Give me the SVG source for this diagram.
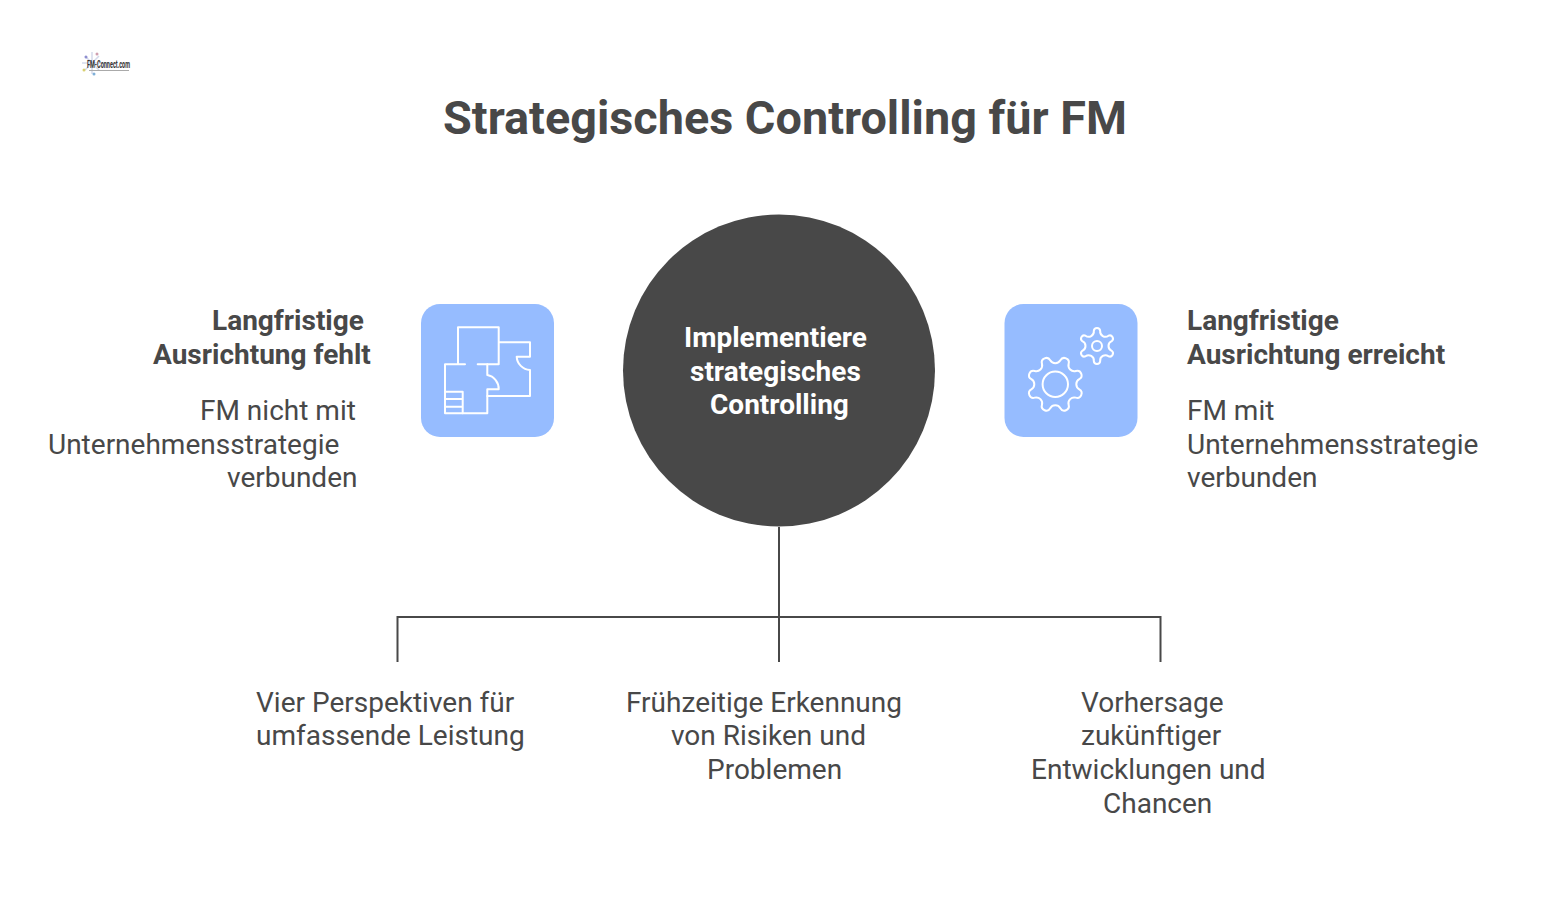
<svg xmlns="http://www.w3.org/2000/svg" width="1558" height="909" viewBox="0 0 1558 909">
<style>
text{font-family:Roboto,"Liberation Sans",sans-serif;fill:#484848}
.t{font-size:46.800px;font-weight:700}
.h{font-size:28px;font-weight:700}
.b{font-size:28px;font-weight:400}
.w{fill:#fff}
.box{fill:#96bcff}
.ic{fill:none;stroke:#fff;stroke-width:2;stroke-linecap:round;stroke-linejoin:round}
.con{fill:none;stroke:#484848;stroke-width:2}
</style>
<rect width="1558" height="909" fill="#fff"/>
<g id="logo">
<path d="M92 52L92 74M82 63L102 63M85 56L99 70M99 56L85 70" stroke="#c9cfe6" stroke-width="1.500" fill="none" opacity=".8"/>
<circle cx="86" cy="57" r="1.500" fill="#8f8fd0"/><circle cx="97" cy="54" r="1.500" fill="#d0a0b0"/><circle cx="84" cy="70" r="1.500" fill="#d8d070"/><circle cx="94" cy="74" r="1.500" fill="#80b0d8"/>
<path d="M89 70.500H129" stroke="#aaa" stroke-width="1" fill="none"/>
<text x="87" y="68" font-size="11" font-weight="700" textLength="43" lengthAdjust="spacingAndGlyphs" style="fill:#333">FM-Connect.com</text>
</g>
<text id="title" class="t" x="443" y="134">Strategisches Controlling für FM</text>
<g id="connectors" class="con">
<path d="M779 527V662"/>
<path d="M397.500 662V617H1160.500V662"/>
</g>
<g id="center">
<circle cx="779" cy="370.500" r="156" fill="#484848"/>
<text class="h w" x="684" y="347">Implementiere</text>
<text class="h w" x="690" y="380.500">strategisches</text>
<text class="h w" x="710" y="414">Controlling</text>
</g>
<g id="left-icon">
<rect class="box" x="421" y="304" width="133" height="133" rx="19"/>
<g class="ic">
<path d="M458 364.300V327.300H498.700V364.300H477.700M465 364.300H445V413.300H487.300V396H530V370A14 14 0 0 1 516.700 356.700H530V342.300H498.700"/>
<path d="M487.300 364.300V375A14 14 0 0 1 498.700 389.300H487.300V396"/>
<path d="M445 391.700H462.700V413.300M445 399H462.700M445 406.700H462.700"/>
</g>
</g>
<g id="left-text">
<text class="h" x="212" y="330">Langfristige</text>
<text class="h" x="153" y="364">Ausrichtung fehlt</text>
<text class="b" x="200" y="420">FM nicht mit</text>
<text class="b" x="48" y="454">Unternehmensstrategie</text>
<text class="b" x="227" y="487">verbunden</text>
</g>
<g id="right-icon">
<rect class="box" x="1004.500" y="304" width="133" height="133" rx="19"/>
<g class="ic">
<circle cx="1055.300" cy="384.300" r="12.700"/>
<path transform="translate(1055.300 384.300)" d="M23.950 5.080A4.500 4.500 0 0 1 20.520 13.340A5.860 5.860 0 0 0 13.340 20.520A4.500 4.500 0 0 1 5.080 23.950A5.860 5.860 0 0 0 -5.080 23.950A4.500 4.500 0 0 1 -13.340 20.520A5.860 5.860 0 0 0 -20.520 13.340A4.500 4.500 0 0 1 -23.950 5.080A5.860 5.860 0 0 0 -23.950 -5.080A4.500 4.500 0 0 1 -20.520 -13.340A5.860 5.860 0 0 0 -13.340 -20.520A4.500 4.500 0 0 1 -5.080 -23.950A5.860 5.860 0 0 0 5.080 -23.950A4.500 4.500 0 0 1 13.340 -20.520A5.860 5.860 0 0 0 20.520 -13.340A4.500 4.500 0 0 1 23.950 -5.080A5.860 5.860 0 0 0 23.950 5.080Z"/>
<circle cx="1097" cy="346" r="5"/>
<path transform="translate(1097 346)" d="M14.680 4.810A3.200 3.200 0 0 1 11.510 10.310A5.230 5.230 0 0 0 3.180 15.120A3.200 3.200 0 0 1 -3.180 15.120A5.230 5.230 0 0 0 -11.510 10.310A3.200 3.200 0 0 1 -14.680 4.810A5.230 5.230 0 0 0 -14.680 -4.810A3.200 3.200 0 0 1 -11.510 -10.310A5.230 5.230 0 0 0 -3.180 -15.120A3.200 3.200 0 0 1 3.180 -15.120A5.230 5.230 0 0 0 11.510 -10.310A3.200 3.200 0 0 1 14.680 -4.810A5.230 5.230 0 0 0 14.680 4.810Z"/>
</g>
</g>
<g id="right-text">
<text class="h" x="1187" y="330">Langfristige</text>
<text class="h" x="1187" y="364">Ausrichtung erreicht</text>
<text class="b" x="1187" y="420">FM mit</text>
<text class="b" x="1187" y="454">Unternehmensstrategie</text>
<text class="b" x="1187" y="487">verbunden</text>
</g>
<g id="item-1">
<text class="b" x="256" y="712">Vier Perspektiven für</text>
<text class="b" x="256" y="745">umfassende Leistung</text>
</g>
<g id="item-2">
<text class="b" x="626" y="712">Frühzeitige Erkennung</text>
<text class="b" x="671" y="745">von Risiken und</text>
<text class="b" x="707" y="779">Problemen</text>
</g>
<g id="item-3">
<text class="b" x="1081" y="712">Vorhersage</text>
<text class="b" x="1081" y="745">zukünftiger</text>
<text class="b" x="1031" y="779">Entwicklungen und</text>
<text class="b" x="1103" y="813">Chancen</text>
</g>
</svg>
